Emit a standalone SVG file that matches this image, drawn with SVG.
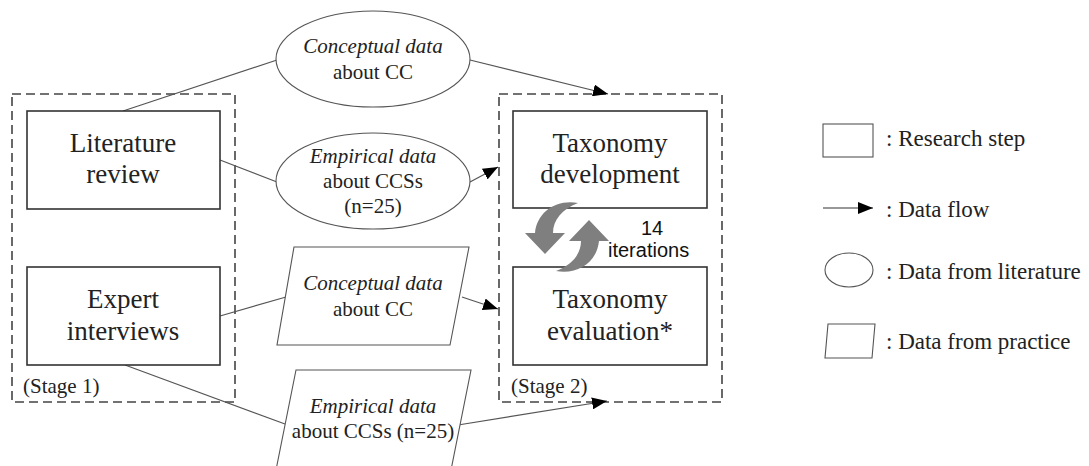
<svg xmlns="http://www.w3.org/2000/svg" width="1089" height="466" viewBox="0 0 1089 466">
<style>
.serif{font-family:'Liberation Serif','Tinos','Times New Roman','DejaVu Serif',serif;fill:#222}
.node{font-size:27px;text-anchor:middle}
.data{font-size:21px;text-anchor:middle}
.it{font-style:italic}
.stage{font-size:21px}
.legend{font-size:23px}
.sans{font-family:'Liberation Sans',Arial,sans-serif;fill:#111;font-size:20px}
.box{fill:#fff;stroke:#333;stroke-width:1.6}
.dash{fill:none;stroke:#444;stroke-width:1.6;stroke-dasharray:9,5}
.shape{fill:#fff;stroke:#555;stroke-width:1.1}
.conn{fill:none;stroke:#555;stroke-width:1.2}
.flow{fill:none;stroke:#555;stroke-width:1.2;marker-end:url(#ah)}
.cyc{fill:#7f7f7f}
</style>
<defs>
<marker id="ah" markerUnits="userSpaceOnUse" markerWidth="16" markerHeight="12" refX="15" refY="6" orient="auto">
<path d="M0,0 L15,6 L0,12 Z" fill="#000"/>
</marker>
</defs>

<g id="stage1">
<rect class="dash" x="12" y="94" width="223" height="308"/>
<text class="serif stage" x="23" y="393" font-family="Liberation Serif, DejaVu Serif, serif">(Stage 1)</text>
</g>
<g id="stage2">
<rect class="dash" x="499" y="94" width="223" height="308"/>
<text class="serif stage" x="511" y="393">(Stage 2)</text>
</g>

<g id="connectors">
<line class="conn" x1="123" y1="111" x2="277" y2="60"/>
<line class="flow" x1="470" y1="60" x2="608" y2="94"/>
<line class="conn" x1="220" y1="160" x2="277" y2="182"/>
<line class="flow" x1="470" y1="182" x2="498" y2="167"/>
<line class="conn" x1="220" y1="316" x2="286" y2="297"/>
<line class="flow" x1="462" y1="297" x2="498" y2="309"/>
<line class="conn" x1="125" y1="365" x2="285" y2="424"/>
<line class="flow" x1="458" y1="425" x2="607" y2="401"/>
</g>

<g id="literature-review">
<rect class="box" x="27" y="111" width="193" height="98"/>
<text class="serif node" x="123" y="152">Literature</text>
<text class="serif node" x="123" y="183">review</text>
</g>

<g id="expert-interviews">
<rect class="box" x="27" y="267" width="193" height="98"/>
<text class="serif node" x="123" y="308">Expert</text>
<text class="serif node" x="123" y="340">interviews</text>
</g>

<g id="conceptual-literature">
<ellipse class="shape" cx="373" cy="59" rx="97" ry="48"/>
<text class="serif data it" x="373" y="53">Conceptual data</text>
<text class="serif data" x="373" y="79">about CC</text>
</g>

<g id="empirical-literature">
<ellipse class="shape" cx="373" cy="181" rx="97" ry="48"/>
<text class="serif data it" x="373" y="163">Empirical data</text>
<text class="serif data" x="373" y="188">about CCSs</text>
<text class="serif data" x="373" y="213">(n=25)</text>
</g>

<g id="conceptual-practice">
<polygon class="shape" points="294,247 469,247 450,345 277,345"/>
<text class="serif data it" x="373" y="290">Conceptual data</text>
<text class="serif data" x="373" y="316">about CC</text>
</g>

<g id="empirical-practice">
<polygon class="shape" points="296,370 471,370 451,470 276,470"/>
<text class="serif data it" x="373" y="413">Empirical data</text>
<text class="serif data" x="373" y="438">about CCSs (n=25)</text>
</g>

<g id="taxonomy-development">
<rect class="box" x="513" y="111" width="194" height="97"/>
<text class="serif node" x="610" y="152">Taxonomy</text>
<text class="serif node" x="610" y="183">development</text>
</g>

<g id="taxonomy-evaluation">
<rect class="box" x="513" y="267" width="194" height="98"/>
<text class="serif node" x="610" y="308">Taxonomy</text>
<text class="serif node" x="610" y="340">evaluation*</text>
</g>

<g id="iterations">
<path class="cyc" d="M578,203 C556,199 537,212 535,233 L525,233 L545,254 L565,233 L553,233 C553,220 562,209 578,203 Z"/>
<path class="cyc" transform="rotate(180 567 237)" d="M578,203 C556,199 537,212 535,233 L525,233 L545,254 L565,233 L553,233 C553,220 562,209 578,203 Z"/>
<text class="sans" x="652" y="235" text-anchor="middle">14</text>
<text class="sans" x="608" y="257">iterations</text>
</g>

<g id="legend">
<rect class="shape" x="823" y="124" width="50" height="33"/>
<text class="serif legend" x="886" y="146">: Research step</text>
<line x1="823" y1="208" x2="873" y2="208" stroke="#333" stroke-width="1.2" marker-end="url(#ah)"/>
<text class="serif legend" x="886" y="217">: Data flow</text>
<ellipse class="shape" cx="849" cy="270" rx="24" ry="17"/>
<text class="serif legend" x="886" y="279">: Data from literature</text>
<polygon class="shape" points="828,324 875,324 872,358 825,358"/>
<text class="serif legend" x="886" y="349">: Data from practice</text>
</g>
</svg>
